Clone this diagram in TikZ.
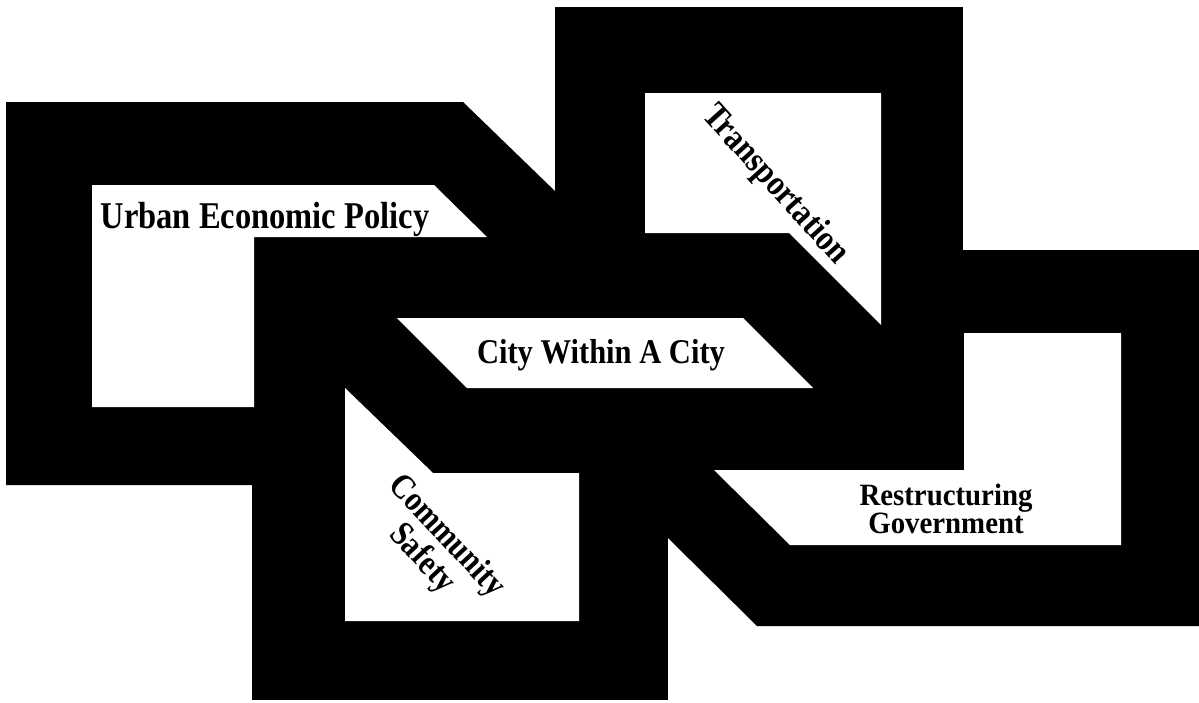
\documentclass[tikz,border=0pt]{standalone}
\usepackage{fontspec}
\setmainfont{Liberation Serif}
\usepackage{graphicx}

\newcommand{\narrow}[2]{\scalebox{#1}[1]{#2}}

\begin{document}
\begin{tikzpicture}[x=1pt,y=-1pt,
    band/.style={fill=black},
    hole/.style={fill=white},
    lbl/.style={inner sep=0pt, align=center, font=\bfseries}]
        \useasboundingbox (0,0) rectangle (1199,702);

        % Black outer shapes of the five frames
        \fill[band] (6,102) -- (463,102) -- (557,193) -- (557,470) -- (254,470) -- (254,485) -- (6,485) -- cycle;
        \fill[band] (555,7) -- (963,7) -- (963,470) -- (555,470) -- cycle;
        \fill[band] (963,250) -- (1199,250) -- (1199,626) -- (757,626) -- (668,538) -- (668,470) -- (963,470) -- cycle;
        \fill[band] (252,470) -- (668,470) -- (668,700) -- (252,700) -- cycle;

        % White openings, as far as they show
        \fill[hole] (92,185) -- (434,185) -- (487,237) -- (254,237) -- (254,407) -- (92,407) -- cycle;
        \fill[hole] (645,93) -- (881,93) -- (881,325) -- (789,233) -- (645,233) -- cycle;
        \fill[hole] (397,318) -- (743,318) -- (813,388) -- (467,388) -- cycle;
        \fill[hole] (345,388) -- (433,473) -- (579,473) -- (579,621) -- (345,621) -- cycle;
        \fill[hole] (964,333) -- (1121,333) -- (1121,545) -- (790,545) -- (714,470) -- (964,470) -- cycle;

        % Labels
        \node[lbl, anchor=base, font=\bfseries\fontsize{37.8}{36}\selectfont] (urban) at (265,228) {\narrow{0.86}{Urban Economic Policy}};
        \node[lbl, anchor=base, font=\bfseries\fontsize{34.7}{34}\selectfont] (city) at (601,363) {\narrow{0.88}{City Within A City}};
        \node[lbl, rotate=-48, font=\bfseries\fontsize{36}{34}\selectfont] (transport) at (775,185) {\narrow{0.86}{Transportation}};
        \node[lbl, rotate=-47, font=\bfseries\fontsize{35}{28}\selectfont] (safety) at (434,548) {\narrow{0.86}{Community}\\\narrow{0.86}{Safety}};
        \node[lbl, font=\bfseries\fontsize{31}{27}\selectfont] (govt) at (946,509) {\narrow{0.93}{Restructuring}\\\narrow{0.93}{Government}};
    \end{tikzpicture}
\end{document}
